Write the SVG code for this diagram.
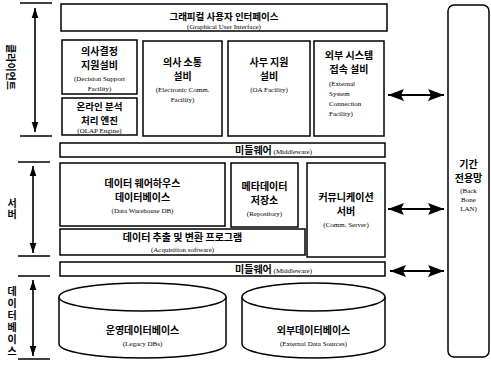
<svg xmlns="http://www.w3.org/2000/svg" width="491" height="367" viewBox="0 0 491 367">
<style>
.box{fill:#fff;stroke:#000;stroke-width:1.5}
.k{font-family:"Noto Sans CJK KR","Noto Sans",sans-serif;font-weight:bold;font-size:10px;text-anchor:middle;fill:#000}
.v{font-family:"Noto Sans CJK KR","Noto Sans",sans-serif;font-weight:bold;font-size:10px;text-anchor:middle;fill:#000;writing-mode:vertical-rl;text-orientation:upright}
.e{font-family:"Liberation Serif",serif;font-size:7px;text-anchor:middle;fill:#000}
.el{font-family:"Liberation Serif",serif;font-size:7px;fill:#000}
.tick{stroke:#000;stroke-width:1.5}
.va{stroke:#000;stroke-width:1.6;fill:none}
.ha{stroke:#000;stroke-width:2;fill:none}
</style>
<defs>
<marker id="vh" markerUnits="userSpaceOnUse" markerWidth="10" markerHeight="16" refX="15" refY="5" orient="auto-start-reverse" viewBox="0 0 15 10">
<path d="M0,0 L15,5 L0,10 Z" fill="#000"/>
</marker>
<marker id="hh" markerUnits="userSpaceOnUse" markerWidth="16" markerHeight="12" refX="16" refY="6" orient="auto-start-reverse" viewBox="0 0 16 12">
<path d="M0,0 L16,6 L0,12 L3,6 Z" fill="#000"/>
</marker>
</defs>

<g id="side-labels">
<line class="tick" x1="20" y1="3" x2="52" y2="3"/>
<line class="tick" x1="20" y1="136" x2="52" y2="136"/>
<line class="tick" x1="18" y1="162" x2="50" y2="162"/>
<line class="tick" x1="18" y1="256" x2="50" y2="256"/>
<line class="tick" x1="18" y1="276" x2="50" y2="276"/>
<line class="tick" x1="18" y1="359" x2="50" y2="359"/>
<text class="k" transform="translate(10,67) rotate(90)" y="3.5">클라이언트</text>
<text class="v" x="12" y="209" style="letter-spacing:1px">서버</text>
<text class="v" x="12" y="322" style="letter-spacing:2px">데이터베이스</text>
</g>

<g id="gui">
<rect class="box" x="61" y="4" width="326" height="27"/>
<text class="k" x="224" y="20" style="font-size:9.5px">그래피컬 사용자 인터페이스</text>
<text class="e" x="224" y="29">(Graphical User Interface)</text>
</g>

<g id="dss">
<rect class="box" x="62" y="40" width="75" height="54"/>
<text class="k" x="99.5" y="55">의사결정</text>
<text class="k" x="99.5" y="69">지원설비</text>
<text class="e" x="99.5" y="81">(Decision Support</text>
<text class="e" x="99.5" y="91">Facility)</text>
</g>

<g id="olap">
<rect class="box" x="62" y="98" width="75" height="37"/>
<text class="k" x="99.5" y="110" style="font-size:9.5px">온라인 분석</text>
<text class="k" x="99.5" y="123.5" style="font-size:9.5px">처리 엔진</text>
<text class="e" x="99.5" y="133">(OLAP Engine)</text>
</g>

<g id="comm-facility">
<rect class="box" x="143" y="41" width="79" height="95"/>
<text class="k" x="182.5" y="66">의사 소통</text>
<text class="k" x="182.5" y="80">설비</text>
<text class="e" x="182.5" y="92">(Electronic Comm.</text>
<text class="e" x="182.5" y="102">Facility)</text>
</g>

<g id="oa-facility">
<rect class="box" x="228" y="41" width="82" height="95"/>
<text class="k" x="269" y="66">사무 지원</text>
<text class="k" x="269" y="80">설비</text>
<text class="e" x="269" y="92">(OA Facility)</text>
</g>

<g id="external-facility">
<rect class="box" x="314" y="41" width="70" height="95"/>
<text class="k" x="349" y="59">외부 시스템</text>
<text class="k" x="349" y="73">접속 설비</text>
<text class="el" x="329" y="86">(External</text>
<text class="el" x="329" y="96">System</text>
<text class="el" x="329" y="106">Connection</text>
<text class="el" x="329" y="116">Facility)</text>
</g>

<g id="middleware1">
<rect class="box" x="60" y="143" width="325" height="14"/>
<text x="235" y="154" style="text-anchor:middle"><tspan class="k" style="text-anchor:start">미들웨어</tspan><tspan class="el"> (Middleware)</tspan></text>
</g>

<g id="dw">
<rect class="box" x="60" y="163" width="165" height="63"/>
<text class="k" x="142.5" y="187">데이터 웨어하우스</text>
<text class="k" x="142.5" y="201">데이터베이스</text>
<text class="e" x="142.5" y="213">(Data Warehouse DB)</text>
</g>

<g id="repository">
<rect class="box" x="231" y="163" width="67" height="64"/>
<text class="k" x="264.5" y="190">메타데이터</text>
<text class="k" x="264.5" y="204">저장소</text>
<text class="e" x="264.5" y="216">(Repository)</text>
</g>

<g id="comm-server">
<rect class="box" x="307" y="163" width="78" height="94"/>
<text class="k" x="346" y="201">커뮤니케이션</text>
<text class="k" x="346" y="215">서버</text>
<text class="e" x="346" y="227">(Comm. Server)</text>
</g>

<g id="acquisition">
<rect class="box" x="60" y="229" width="245" height="26"/>
<text class="k" x="182.5" y="241">데이터 추출 및 변환 프로그램</text>
<text class="e" x="182.5" y="252">(Acquisition software)</text>
</g>

<g id="middleware2">
<rect class="box" x="60" y="262" width="325" height="14"/>
<text x="235" y="273" style="text-anchor:middle"><tspan class="k" style="text-anchor:start">미들웨어</tspan><tspan class="el"> (Middleware)</tspan></text>
</g>

<g id="legacy-db">
<path class="box" d="M59,297 L59,344 A83.5,14 0 0 0 226,344 L226,297"/>
<ellipse class="box" cx="142.5" cy="297" rx="83.5" ry="14"/>
<text class="k" x="142.5" y="334">운영데이터베이스</text>
<text class="e" x="142.5" y="346">(Legacy DBs)</text>
</g>

<g id="external-db">
<path class="box" d="M242,297 L242,344 A71.5,14 0 0 0 385,344 L385,297"/>
<ellipse class="box" cx="313.5" cy="297" rx="71.5" ry="14"/>
<text class="k" x="313.5" y="334">외부데이터베이스</text>
<text class="e" x="313.5" y="346">(External Data Sources)</text>
</g>

<g id="backbone">
<rect class="box" x="448" y="5" width="41" height="352" rx="6"/>
<text class="k" x="468.5" y="168">기간</text>
<text class="k" x="468.5" y="182">전용망</text>
<text class="e" x="468.5" y="193">(Back</text>
<text class="e" x="468.5" y="202">Bone</text>
<text class="e" x="468.5" y="211">LAN)</text>
</g>

<g id="connectors">
<line class="va" x1="35" y1="8" x2="35" y2="132" marker-start="url(#vh)" marker-end="url(#vh)"/>
<line class="va" x1="33" y1="166" x2="33" y2="253" marker-start="url(#vh)" marker-end="url(#vh)"/>
<line class="va" x1="33" y1="280" x2="33" y2="356" marker-start="url(#vh)" marker-end="url(#vh)"/>
<line class="ha" x1="388" y1="95" x2="444" y2="95" marker-start="url(#hh)" marker-end="url(#hh)"/>
<line class="ha" x1="388" y1="209" x2="444" y2="209" marker-start="url(#hh)" marker-end="url(#hh)"/>
<line class="ha" x1="390" y1="271" x2="444" y2="271" marker-start="url(#hh)" marker-end="url(#hh)"/>
</g>
</svg>
